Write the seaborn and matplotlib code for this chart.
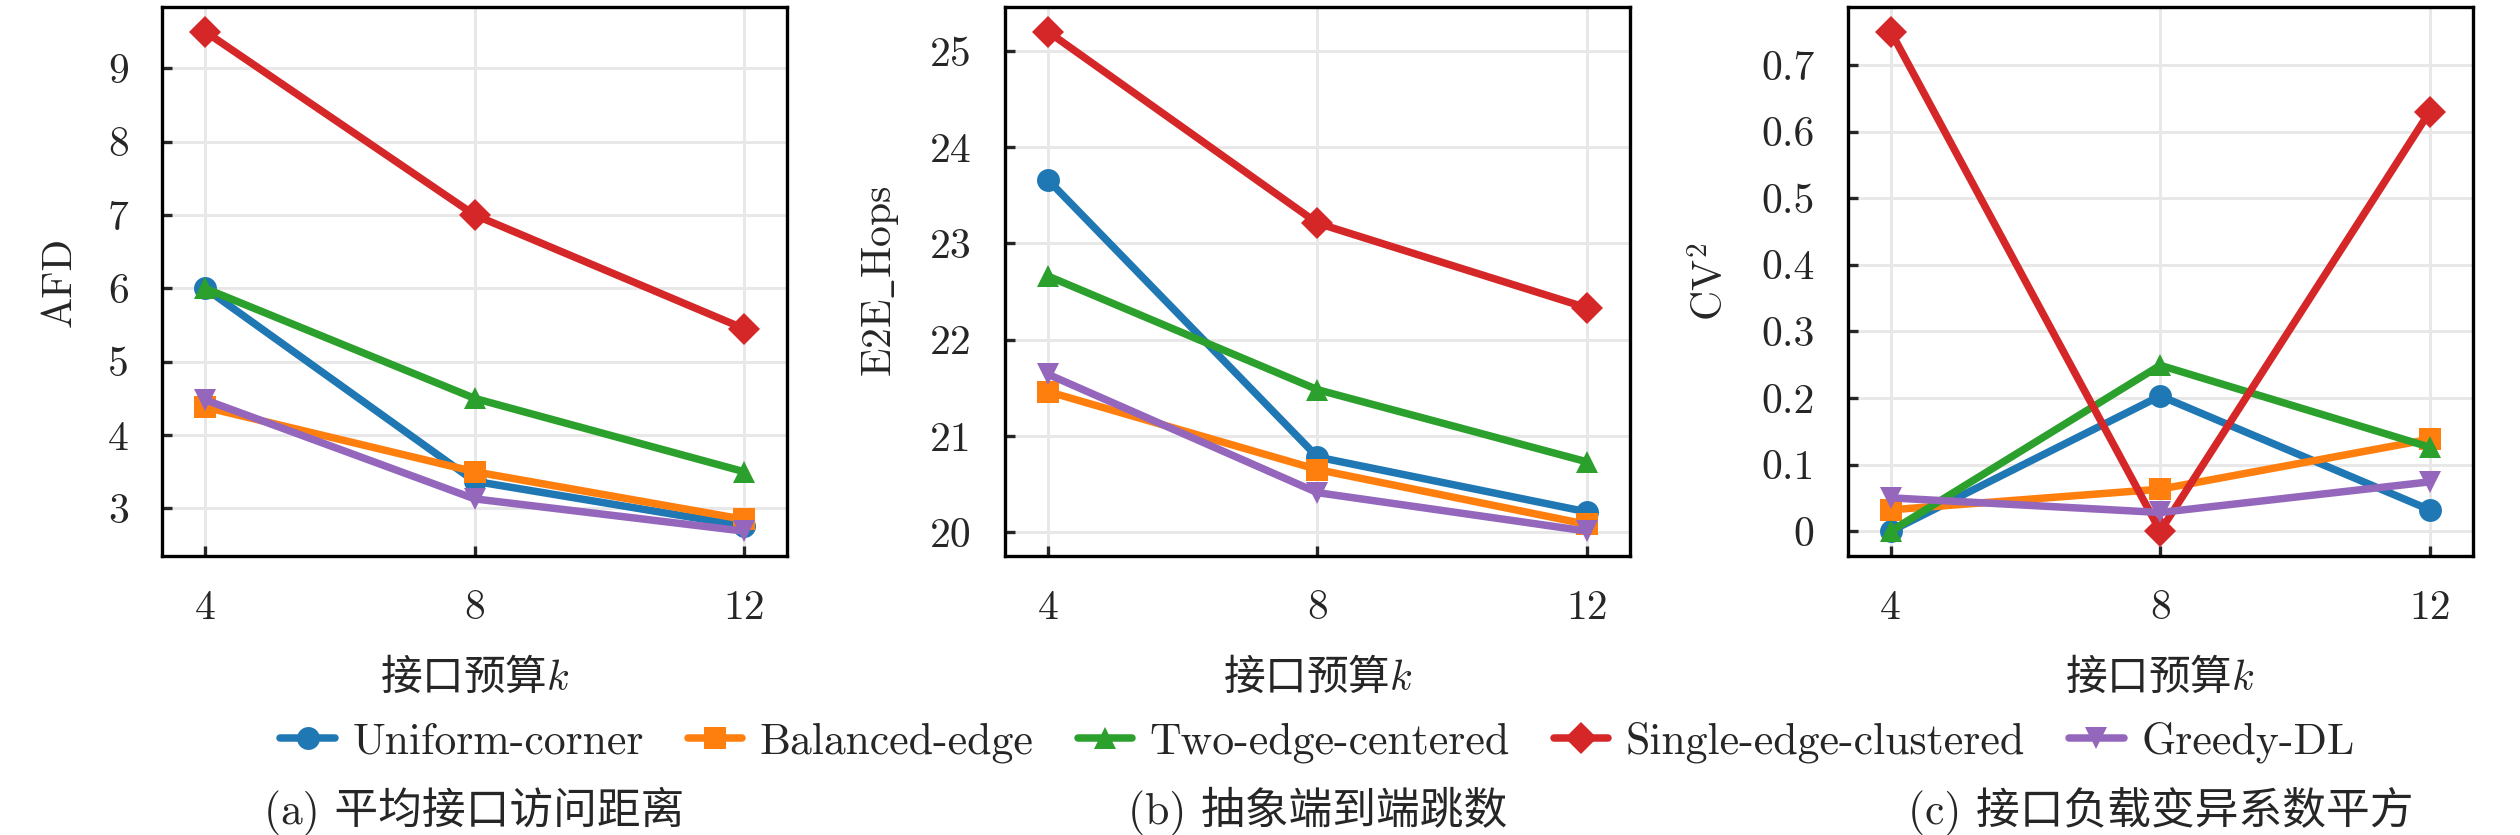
import matplotlib
matplotlib.use("Agg")
import matplotlib.pyplot as plt
import seaborn as sns
import pandas as pd
from matplotlib.ticker import FuncFormatter, MultipleLocator

budgets = [4, 8, 12]
methods = ['Uniform-corner', 'Balanced-edge', 'Two-edge-centered',
           'Single-edge-clustered', 'Greedy-DL']
colors = ['#1f77b4', '#ff7f0e', '#2ca02c', '#d62728', '#9467bd']
marker_list = ['o', 's', '^', 'D', 'v']

afd = {
    'Uniform-corner': [6.0, 3.37, 2.76],
    'Balanced-edge': [4.38, 3.5, 2.85],
    'Two-edge-centered': [6.0, 4.5, 3.5],
    'Single-edge-clustered': [9.5, 7.0, 5.45],
    'Greedy-DL': [4.48, 3.13, 2.69],
}
e2e_hops = {
    'Uniform-corner': [23.66, 20.78, 20.21],
    'Balanced-edge': [21.46, 20.65, 20.08],
    'Two-edge-centered': [22.66, 21.48, 20.73],
    'Single-edge-clustered': [25.2, 23.21, 22.33],
    'Greedy-DL': [21.64, 20.41, 20.01],
}
cv2 = {
    'Uniform-corner': [0.0, 0.203, 0.032],
    'Balanced-edge': [0.032, 0.063, 0.138],
    'Two-edge-centered': [0.0, 0.249, 0.126],
    'Single-edge-clustered': [0.75, 0.0, 0.63],
    'Greedy-DL': [0.05, 0.028, 0.074],
}

ylabels = ['AFD', r'E2E$\_$Hops', r'CV$^2$']
ysteps = [1, 1, 0.1]
captions = ['(a) 平均接口访问距离', '(b) 抽象端到端跳数', '(c) 接口负载变异系数平方']


def to_long(table):
    rows = []
    for m in methods:
        for k, v in zip(budgets, table[m]):
            rows.append({'k': k, 'value': v, 'method': m})
    return pd.DataFrame(rows)


sns.set_theme(style='ticks', rc={
    'xtick.direction': 'in', 'ytick.direction': 'in',
    'xtick.major.size': 2.4, 'ytick.major.size': 2.4,
    'xtick.major.pad': 8, 'ytick.major.pad': 8,
    'axes.edgecolor': 'black', 'axes.linewidth': 0.8,
})
plt.rcParams['font.family'] = ['cmr10', 'Noto Sans CJK SC']
plt.rcParams['mathtext.fontset'] = 'cm'
plt.rcParams['font.size'] = 10
plt.rcParams['axes.unicode_minus'] = False

fig, axes = plt.subplots(1, 3, figsize=(8.4, 835 / 300), dpi=300)
fig.subplots_adjust(left=0.0643, right=0.9813, top=0.992, bottom=0.334, wspace=0.348)

palette = dict(zip(methods, colors))
markers = dict(zip(methods, marker_list))

for ax, table, ylab, step in zip(axes, [afd, e2e_hops, cv2], ylabels, ysteps):
    df = to_long(table)
    sns.lineplot(data=df, x='k', y='value', hue='method', style='method',
                 hue_order=methods, style_order=methods, palette=palette,
                 markers=markers, dashes=False, linewidth=1.8, markersize=5.5,
                 markeredgewidth=0, ax=ax)
    ax.set_xticks(budgets)
    ax.margins(x=0.08)
    ax.yaxis.set_major_locator(MultipleLocator(step))
    ax.yaxis.set_major_formatter(FuncFormatter(lambda v, p: '%g' % round(v, 6)))
    ax.grid(True, color='#e8e8e8', linewidth=0.7)
    ax.set_axisbelow(True)
    # CJK part as the text font, k from mathtext italic
    ax.set_xlabel('接口预算$k$', fontsize=10, labelpad=7, family='Noto Sans CJK SC')
    ax.set_ylabel(ylab, fontsize=10, labelpad=7)
    ax.tick_params(labelsize=10, width=0.8)
    for s in ax.spines.values():
        s.set_visible(True)
        s.set_linewidth(0.8)
    ax.get_legend().remove()

# legend sits centred under the middle panel
mid = axes[1].get_position()
handles, labels = axes[0].get_legend_handles_labels()
fig.legend(handles, labels, loc='center', bbox_to_anchor=((mid.x0 + mid.x1) / 2, 0.111),
           ncol=5, frameon=False, fontsize=10.5, handlelength=1.25,
           handletextpad=0.4, columnspacing=1.0)

for ax, cap in zip(axes, captions):
    pos = ax.get_position()
    fig.text((pos.x0 + pos.x1) / 2, 0.029, cap, ha='center', va='center', fontsize=10.5)

fig.savefig('out.png', dpi=300)
